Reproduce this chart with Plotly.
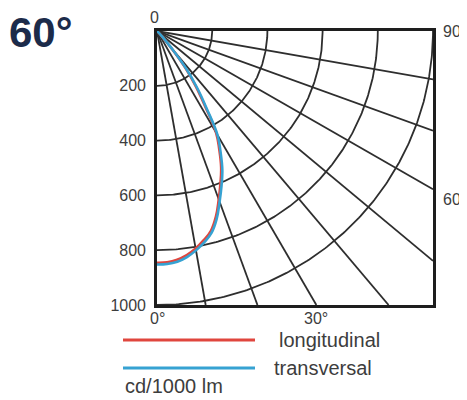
import numpy as np
import plotly.graph_objects as go

# ---- data (cd/1000 lm) ----
angles_deg = [0, 2.5, 5, 7.5, 10, 12.5, 15, 17.5, 20, 22.5, 25, 27.5, 30, 32.5, 35, 37.5, 40, 42.5, 45]
longitudinal = [846, 845, 838, 825, 806, 782, 755, 710, 654, 601, 550, 489, 428, 322, 242, 165, 75, 22, 0]
transversal = [852, 851, 845, 832, 813, 790, 763, 719, 663, 611, 560, 499, 438, 334, 254, 176, 84, 28, 0]
ring_values = [200, 400, 600, 800, 1000]
radial_tick_labels = ["200", "400", "600", "800", "1000"]
spoke_angles = [10, 20, 30, 40, 50, 60, 70, 80]
angle_label_deg = [0, 30, 60, 90]
angle_label_text = ["0°", "30°", "60°", "90°"]
series_names = ["longitudinal", "transversal"]
series_colors = ["#e0463e", "#36a2d2"]
unit_label = "cd/1000 lm"
title_text = "60°"
RMAX = 1000

# page body has an 8px margin; work in reference pixel coords and subtract it
OFF = 8
W, H = 467 - OFF, 400 - OFF
L, T = 157 - OFF, 31 - OFF
PW, PH = 276, 274
R, B = W - L - PW, H - T - PH


def px(xp):
    return (xp - OFF - L) / PW


def py(yp):
    return (T + PH - (yp - OFF)) / PH


def to_xy(r, deg):
    a = np.radians(np.asarray(deg, dtype=float))
    r = np.asarray(r, dtype=float)
    return r * np.sin(a), r * np.cos(a)


fig = go.Figure()
grid_col = "#2e2e2e"

# rings
arc = np.linspace(0, 90, 181)
for rv in ring_values:
    x, y = to_xy(np.full_like(arc, rv), arc)
    fig.add_trace(go.Scatter(x=x, y=y, mode="lines", hoverinfo="skip",
                             line=dict(color=grid_col, width=1.8), showlegend=False))
# spokes to the square frame
for d in spoke_angles:
    a = np.radians(d)
    length = min(RMAX / np.cos(a), RMAX / np.sin(a))
    x, y = to_xy([0, length], [d, d])
    fig.add_trace(go.Scatter(x=x, y=y, mode="lines", hoverinfo="skip",
                             line=dict(color=grid_col, width=1.8), showlegend=False))

# curves
for name, vals, col in zip(series_names, [longitudinal, transversal], series_colors):
    x, y = to_xy(vals, angles_deg)
    fig.add_trace(go.Scatter(x=x, y=y, mode="lines", name=name,
                             line=dict(color=col, width=2.6, shape="spline", smoothing=1.2),
                             showlegend=False))

font_fam = "Liberation Sans, Arial, sans-serif"
lab_col = "#3d3d3d"

fig.update_layout(
    width=W, height=H,
    margin=dict(l=L, r=R, t=T, b=B, pad=0),
    paper_bgcolor="white", plot_bgcolor="white",
    font=dict(family=font_fam, size=16, color=lab_col),
    xaxis=dict(range=[0, RMAX], showgrid=False, zeroline=False, showticklabels=False,
               showline=True, mirror=True, linecolor="#1e1e1e", linewidth=2.6, fixedrange=True),
    yaxis=dict(range=[RMAX, 0], showgrid=False, zeroline=False,
               tickvals=ring_values, ticktext=radial_tick_labels,
               ticks="outside", ticklen=5, tickcolor="rgba(0,0,0,0)",
               tickfont=dict(size=16, color=lab_col),
               showline=True, mirror=True, linecolor="#1e1e1e", linewidth=2.6, fixedrange=True),
)

ann = []
# "0" above origin
ann.append(dict(x=0, y=0, xref="x", yref="y", text="0", showarrow=False,
                xanchor="center", yanchor="bottom", xshift=-3, yshift=3,
                font=dict(size=16, color=lab_col)))
# angle labels at ends of spokes
for d, t in zip(angle_label_deg, angle_label_text):
    a = np.radians(d)
    if d <= 45:
        ann.append(dict(x=RMAX * np.tan(a), y=RMAX, xref="x", yref="y", text=t,
                        showarrow=False, xanchor="center", yanchor="top", yshift=-3, xshift=0,
                        font=dict(size=16, color=lab_col)))
    else:
        ann.append(dict(x=RMAX, y=RMAX / np.tan(a), xref="x", yref="y", text=t,
                        showarrow=False, xanchor="left", yanchor="middle", xshift=8,
                        yshift=(0 if d == 90 else -10),
                        font=dict(size=16, color=lab_col)))

# title
ann.append(dict(x=px(7), y=py(32), xref="paper", yref="paper", text="<b>%s</b>" % title_text,
                showarrow=False, xanchor="left", yanchor="middle",
                font=dict(size=42, color="#1c2b4a", family=font_fam)))

# legend (lines + text)
shapes = []
leg_y = [340, 368]
leg_tx = [277, 272]
for i, (name, col) in enumerate(zip(series_names, series_colors)):
    shapes.append(dict(type="line", xref="paper", yref="paper",
                       x0=px(123), x1=px(255), y0=py(leg_y[i]), y1=py(leg_y[i]),
                       line=dict(color=col, width=3)))
    ann.append(dict(x=px(leg_tx[i]), y=py(leg_y[i]), xref="paper", yref="paper", text=name,
                    showarrow=False, xanchor="left", yanchor="middle",
                    font=dict(size=20, color=lab_col)))
ann.append(dict(x=px(123), y=py(386), xref="paper", yref="paper", text=unit_label,
                showarrow=False, xanchor="left", yanchor="middle",
                font=dict(size=20, color=lab_col)))

fig.update_layout(annotations=ann, shapes=shapes)
fig.write_html("out.html")
